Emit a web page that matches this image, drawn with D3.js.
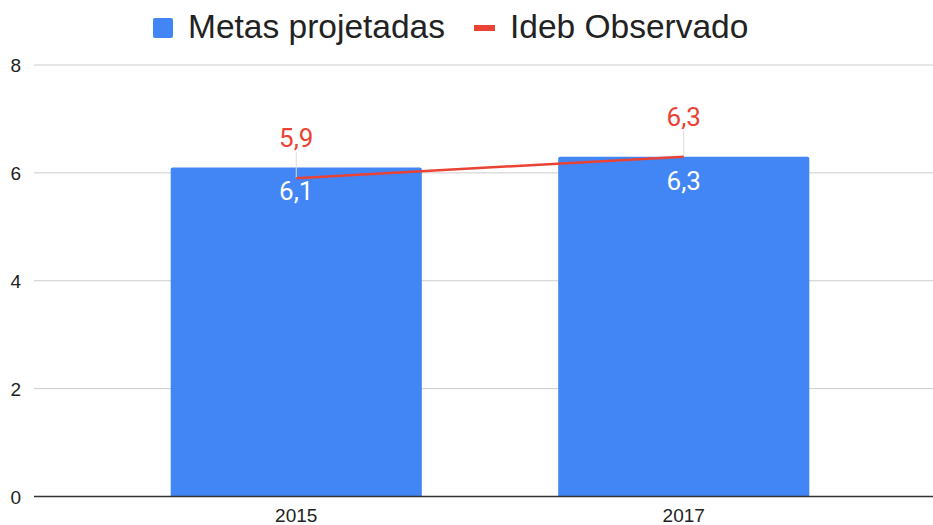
<!DOCTYPE html>
<html>
<head>
<meta charset="utf-8">
<script src="https://cdn.jsdelivr.net/npm/d3@7"></script>
<style>
  body { margin: 0; background: #fff; }
  text { font-family: Roboto, "Liberation Sans", Arial, sans-serif; }
</style>
</head>
<body>
<script>
var years = ["2015", "2017"];
var metas = [6.1, 6.3];
var observado = [5.9, 6.3];
var yTicks = [0, 2, 4, 6, 8];

var width = 933, height = 525;
var fmt = function (v) { return String(v).replace(".", ","); };

var svg = d3.select("body").append("svg")
  .attr("width", width)
  .attr("height", height);

var x = d3.scaleBand()
  .domain(years)
  .range([102.5, 877.5])
  .paddingInner(0.352)
  .paddingOuter(0.176);

var y = d3.scaleLinear()
  .domain([0, 8])
  .range([496.5, 65]);

// gridlines
svg.append("g")
  .selectAll("line")
  .data(yTicks.filter(function (d) { return d > 0; }))
  .enter().append("line")
  .attr("x1", 34).attr("x2", width)
  .attr("y1", function (d) { return y(d); })
  .attr("y2", function (d) { return y(d); })
  .attr("stroke", "#cccccc")
  .attr("stroke-width", 1);

// y axis labels
var yAxis = d3.axisLeft(y).tickValues(yTicks).tickSize(0).tickPadding(0);
var gy = svg.append("g").attr("transform", "translate(21,0)").call(yAxis);
gy.select(".domain").remove();
gy.selectAll("text")
  .attr("fill", "#222")
  .attr("dy", "0.36em")
  .style("font-family", "'Liberation Sans', Arial, sans-serif")
  .style("font-size", "19px");

// bars
svg.append("g")
  .selectAll("path")
  .data(years)
  .enter().append("path")
  .attr("fill", "#4285F4")
  .attr("d", function (d, i) {
    var x0 = x(d), x1 = x(d) + x.bandwidth(), y0 = y(0), y1 = y(metas[i]), r = 2;
    return "M" + x0 + "," + y0 + "V" + (y1 + r) + "Q" + x0 + "," + y1 + " " + (x0 + r) + "," + y1 +
      "H" + (x1 - r) + "Q" + x1 + "," + y1 + " " + x1 + "," + (y1 + r) + "V" + y0 + "Z";
  });

// baseline
svg.append("line")
  .attr("x1", 34).attr("x2", width)
  .attr("y1", y(0)).attr("y2", y(0))
  .attr("stroke", "#333").attr("stroke-width", 1.5);

// x axis labels
var xAxis = d3.axisBottom(x).tickSize(0).tickPadding(0);
var gx = svg.append("g").attr("transform", "translate(0,522)").call(xAxis);
gx.select(".domain").remove();
gx.selectAll("text")
  .attr("fill", "#222")
  .attr("dy", 0)
  .style("font-family", "'Liberation Sans', Arial, sans-serif")
  .style("font-size", "19px");

// bar value labels
svg.append("g")
  .selectAll("text")
  .data(years)
  .enter().append("text")
  .attr("x", function (d) { return x(d) + x.bandwidth() / 2; })
  .attr("y", function (d, i) { return y(metas[i]) + 33; })
  .attr("text-anchor", "middle")
  .attr("fill", "#fff")
  .style("font-size", "26px")
  .text(function (d, i) { return fmt(metas[i]); });

// leader lines for line labels
var cx = function (d) { return x(d) + x.bandwidth() / 2; };
svg.append("g")
  .selectAll("line")
  .data(years)
  .enter().append("line")
  .attr("x1", cx).attr("x2", cx)
  .attr("y1", function (d, i) { return y(observado[i]) - 26; })
  .attr("y2", function (d, i) { return y(observado[i]); })
  .attr("stroke", "#dddddd").attr("stroke-width", 1);

// line series
var line = d3.line()
  .x(function (d, i) { return cx(years[i]); })
  .y(function (d) { return y(d); });
svg.append("path")
  .datum(observado)
  .attr("d", line)
  .attr("fill", "none")
  .attr("stroke", "#EA4335")
  .attr("stroke-width", 2.5);

svg.append("g")
  .selectAll("text")
  .data(years)
  .enter().append("text")
  .attr("x", cx)
  .attr("y", function (d, i) { return y(observado[i]) - 31; })
  .attr("text-anchor", "middle")
  .attr("fill", "#EA4335")
  .style("font-size", "26px")
  .text(function (d, i) { return fmt(observado[i]); });

// legend
var legend = svg.append("g")
  .style("font-family", "'Liberation Sans', Arial, sans-serif");
legend.append("rect")
  .attr("x", 153).attr("y", 18).attr("width", 20).attr("height", 20)
  .attr("rx", 2).attr("fill", "#4285F4");
legend.append("text")
  .attr("x", 188).attr("y", 38)
  .attr("fill", "#222")
  .style("font-family", "'Liberation Sans', Arial, sans-serif")
  .style("font-size", "33.5px")
  .text("Metas projetadas");
legend.append("rect")
  .attr("x", 474).attr("y", 25).attr("width", 21).attr("height", 6)
  .attr("fill", "#EA4335");
legend.append("text")
  .attr("x", 510).attr("y", 38)
  .attr("fill", "#222")
  .style("font-family", "'Liberation Sans', Arial, sans-serif")
  .style("font-size", "33.5px")
  .text("Ideb Observado");
</script>
</body>
</html>
